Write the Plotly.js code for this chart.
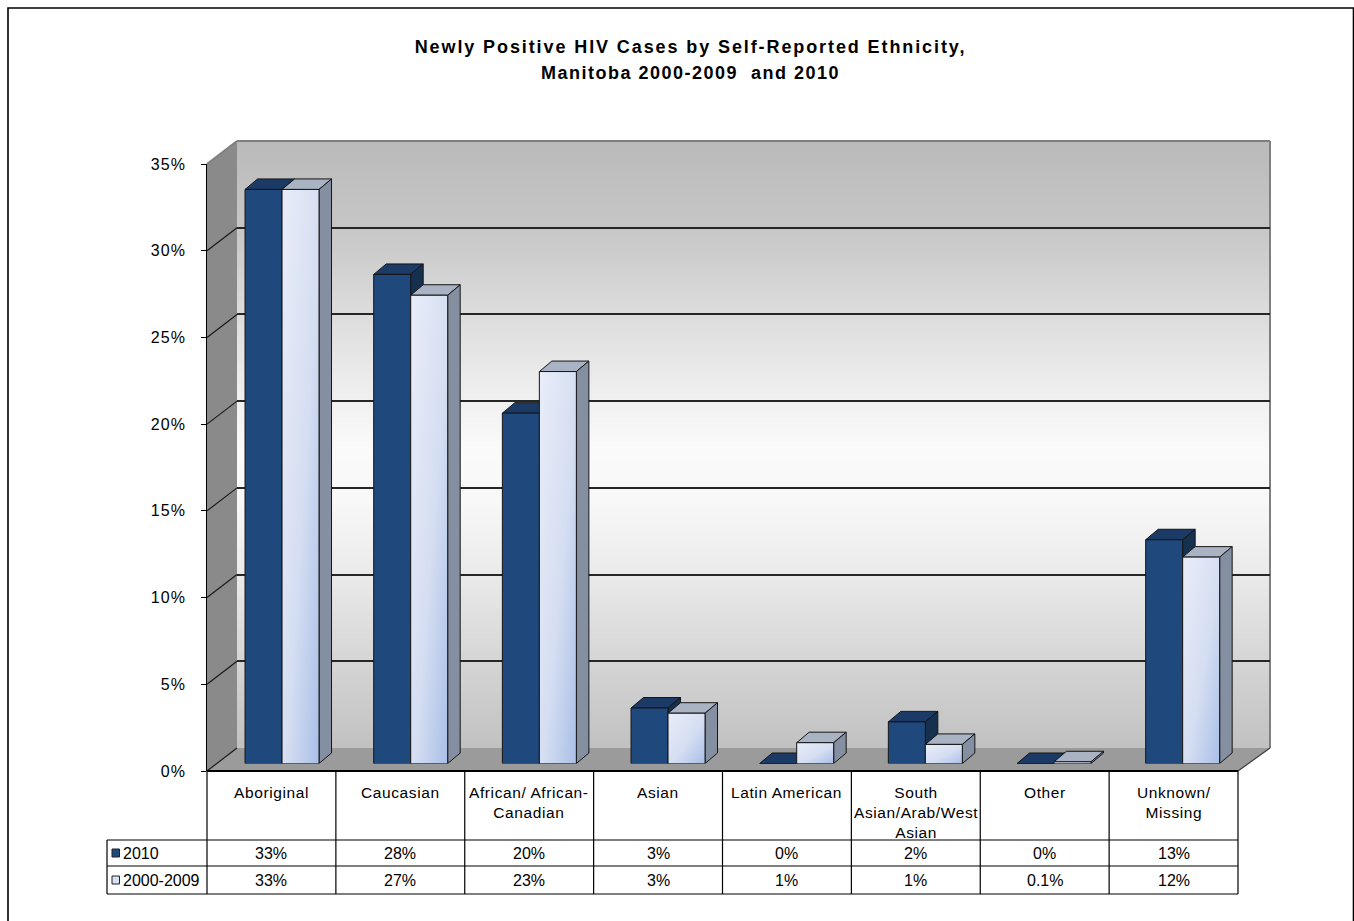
<!DOCTYPE html>
<html>
<head>
<meta charset="utf-8">
<script src="https://cdn.plot.ly/plotly-3.0.1.min.js"></script>
<style>
html,body{margin:0;padding:0;overflow:hidden;background:#fff;}
#chart{width:1354px;height:921px;}
</style>
</head>
<body>
<div id="chart"></div>
<script>
// ---------------- DATA ----------------
const categories = ['Aboriginal', 'Caucasian', 'African/ African-<br>Canadian', 'Asian',
  'Latin American', 'South<br>Asian/Arab/West<br>Asian', 'Other', 'Unknown/<br>Missing'];
const seriesNames = ['2010', '2000-2009'];
const values2010 = [33.1, 28.2, 20.2, 3.2, 0, 2.4, 0, 12.9];
const values0009 = [33.1, 27.0, 22.6, 2.9, 1.2, 1.1, 0.1, 11.9];
const labels2010 = ['33%', '28%', '20%', '3%', '0%', '2%', '0%', '13%'];
const labels0009 = ['33%', '27%', '23%', '3%', '1%', '1%', '0.1%', '12%'];
const yTicks = [0, 5, 10, 15, 20, 25, 30, 35];
const titleLine1 = 'Newly Positive HIV Cases by Self-Reported Ethnicity,';
const titleLine2 = 'Manitoba 2000-2009  and 2010';

// ---------------- GEOMETRY / STYLE ----------------
const W = 1354, H = 921;
const fx = p => p / W;
const fy = p => (H - p) / H;
const FONT = 'Liberation Sans, Arial, Helvetica, sans-serif';
const wall = {l: 237, r: 1270, t: 141, b: 748};
const front = {l: 207, r: 1238, t: 164, b: 771};
const barsBox = {l: 217.7, r: 1247, t: 156.5, b: 763.5};
const depth = {dx: 12.5, dy: 10.5};
const tableRows = [771, 840, 866, 894];
const legendLeft = 107;
const yMax = 35;
const nCat = categories.length;
const pxPerX = (barsBox.r - barsBox.l) / nCat;
const pxPerY = (barsBox.b - barsBox.t) / yMax;
const ddx = depth.dx / pxPerX, ddy = depth.dy / pxPerY;
const bw = 37 / pxPerX;
const colors = {
  front: ['#1f497d', '#d6e0f2'],
  top: ['#1b3a66', '#a9b3c4'],
  side: ['#16304f', '#858fa2'],
  edge: '#151515'
};
const sp = (t, s) => s ? '<span style="letter-spacing:' + s + 'px">' + t + '</span>' : t;

const xIdx = categories.map((c, i) => i);
const seriesVals = [values2010, values0009];
const offsets = [-bw, 0];

// ---------------- TRACES ----------------
const traces = [
  {type: 'scatter', x: [0], y: [0], xaxis: 'x', yaxis: 'y', mode: 'markers',
   marker: {opacity: 0}, hoverinfo: 'skip', showlegend: false},
  {type: 'bar', name: seriesNames[0], x: xIdx, y: values2010, width: bw, offset: offsets[0],
   xaxis: 'x2', yaxis: 'y2', marker: {color: colors.front[0], line: {color: colors.edge, width: 1}},
   showlegend: false},
  {type: 'bar', name: seriesNames[1], x: xIdx, y: values0009, width: bw, offset: offsets[1],
   xaxis: 'x2', yaxis: 'y2', marker: {color: colors.front[1], line: {color: colors.edge, width: 1}},
   showlegend: false},
  {type: 'scatter', x: [0], y: [0], xaxis: 'x3', yaxis: 'y3', mode: 'markers',
   marker: {opacity: 0}, hoverinfo: 'skip', showlegend: false}
];

// ---------------- SHAPES ----------------
const shapes = [];
const stops = [[141, 186], [226, 198], [313, 220], [400, 240], [450, 250], [500, 248], [574, 234], [661, 213], [748, 193]];
function grayAt(y) {
  for (let k = 0; k < stops.length - 1; k++) {
    const a = stops[k], b = stops[k + 1];
    if (y >= a[0] && y <= b[0]) return a[1] + (b[1] - a[1]) * (y - a[0]) / (b[0] - a[0]);
  }
  return stops[stops.length - 1][1];
}
for (let y = wall.t; y < wall.b; y += 3) {
  const g = Math.round(grayAt(y + 1.5));
  shapes.push({type: 'rect', xref: 'paper', yref: 'paper', layer: 'below',
    x0: fx(wall.l), x1: fx(wall.r), y0: fy(y), y1: fy(Math.min(y + 3.5, wall.b)),
    fillcolor: 'rgb(' + g + ',' + g + ',' + g + ')', line: {width: 0}});
}
shapes.push({type: 'path', xref: 'paper', yref: 'paper', layer: 'below',
  path: 'M' + fx(front.l) + ',' + fy(front.t) + ' L' + fx(wall.l) + ',' + fy(wall.t) +
        ' L' + fx(wall.l) + ',' + fy(wall.b) + ' L' + fx(front.l) + ',' + fy(front.b) + ' Z',
  fillcolor: '#8a8a8a', line: {width: 0}});
shapes.push({type: 'path', xref: 'paper', yref: 'paper', layer: 'below',
  path: 'M' + fx(front.l) + ',' + fy(front.b) + ' L' + fx(wall.l) + ',' + fy(wall.b) +
        ' L' + fx(wall.r) + ',' + fy(wall.b) + ' L' + fx(front.r) + ',' + fy(front.b) + ' Z',
  fillcolor: '#9b9b9b', line: {width: 0}});
yTicks.slice(0, -1).forEach(v => {
  shapes.push({type: 'line', xref: 'paper', yref: 'y3', layer: 'below', ysizemode: 'pixel', yanchor: v,
    x0: fx(front.l), x1: fx(wall.l), y0: 0, y1: front.b - wall.b,
    line: {color: '#1a1a1a', width: 1.2}});
});
shapes.push({type: 'line', xref: 'paper', yref: 'paper', layer: 'below',
  x0: fx(front.l), y0: fy(front.t), x1: fx(wall.l), y1: fy(wall.t), line: {color: '#7f7f7f', width: 2}});
shapes.push({type: 'line', xref: 'paper', yref: 'paper', layer: 'below',
  x0: fx(wall.l), y0: fy(wall.t), x1: fx(wall.r), y1: fy(wall.t), line: {color: '#7f7f7f', width: 2}});
shapes.push({type: 'line', xref: 'paper', yref: 'paper', layer: 'below',
  x0: fx(wall.r), y0: fy(wall.t), x1: fx(wall.r), y1: fy(wall.b), line: {color: '#7f7f7f', width: 2}});
shapes.push({type: 'line', xref: 'paper', yref: 'paper', layer: 'below',
  x0: fx(front.r), y0: fy(front.b), x1: fx(wall.r), y1: fy(wall.b), line: {color: '#3a3a3a', width: 1.2}});

xIdx.forEach(i => {
  [0, 1].forEach(s => {
    const v = seriesVals[s][i];
    const xl = i + offsets[s], xr = xl + bw;
    shapes.push({type: 'path', xref: 'x2', yref: 'y2', layer: 'below',
      path: 'M' + xl + ',' + v + ' L' + xr + ',' + v + ' L' + (xr + ddx) + ',' + (v + ddy) +
            ' L' + (xl + ddx) + ',' + (v + ddy) + ' Z',
      fillcolor: colors.top[s], line: {color: colors.edge, width: 1}});
    shapes.push({type: 'path', xref: 'x2', yref: 'y2', layer: 'below',
      path: 'M' + xr + ',0 L' + xr + ',' + v + ' L' + (xr + ddx) + ',' + (v + ddy) +
            ' L' + (xr + ddx) + ',' + ddy + ' Z',
      fillcolor: colors.side[s], line: {color: colors.edge, width: 1}});
  });
});

const colPx = (front.r - front.l) / nCat;
const tl = {color: '#000', width: 1.2};
for (let k = 0; k <= nCat; k++) {
  const x = fx(front.l + k * colPx);
  shapes.push({type: 'line', xref: 'paper', yref: 'paper', x0: x, x1: x,
    y0: fy(tableRows[0]), y1: fy(tableRows[3]), line: tl});
}
shapes.push({type: 'line', xref: 'paper', yref: 'paper', x0: fx(front.l), x1: fx(front.r),
  y0: fy(tableRows[0]), y1: fy(tableRows[0]), line: {color: '#000', width: 2}});
[1, 2, 3].forEach(r => {
  shapes.push({type: 'line', xref: 'paper', yref: 'paper', x0: fx(legendLeft), x1: fx(front.r),
    y0: fy(tableRows[r]), y1: fy(tableRows[r]), line: tl});
});
shapes.push({type: 'line', xref: 'paper', yref: 'paper', x0: fx(legendLeft), x1: fx(legendLeft),
  y0: fy(tableRows[1]), y1: fy(tableRows[3]), line: tl});
[0, 1].forEach(s => {
  const yc = (tableRows[s + 1] + tableRows[s + 2]) / 2;
  shapes.push({type: 'rect', xref: 'paper', yref: 'paper', x0: fx(112), x1: fx(119.5),
    y0: fy(yc - 4), y1: fy(yc + 4), fillcolor: colors.front[s], line: {color: '#222', width: 1}});
});
shapes.push({type: 'rect', xref: 'paper', yref: 'paper', x0: fx(8), x1: fx(1353.5), y0: fy(935), y1: fy(8),
  line: {color: '#000', width: 1.6}, fillcolor: 'rgba(0,0,0,0)'});

// ---------------- ANNOTATIONS ----------------
const tf = {family: FONT, size: 16, color: '#000'};
const cf = {family: FONT, size: 15.5, color: '#000'};
const annotations = [];
annotations.push({xref: 'paper', yref: 'paper', x: fx(690.5), y: fy(73), xanchor: 'center', yanchor: 'middle',
  text: sp(titleLine2, 1.5), showarrow: false,
  font: {family: FONT, size: 18, color: '#000', weight: 'bold'}});
categories.forEach((c, i) => {
  annotations.push({xref: 'x3', yref: 'paper', x: i, y: fy(782), xanchor: 'center', yanchor: 'top',
    text: c.split('<br>').map(t => sp(t, 0.6)).join('<br>'), showarrow: false, font: cf});
});
[labels2010, labels0009].forEach((labs, s) => {
  const yc = (tableRows[s + 1] + tableRows[s + 2]) / 2;
  labs.forEach((t, i) => {
    annotations.push({xref: 'x3', yref: 'paper', x: i, y: fy(yc), xanchor: 'center', yanchor: 'middle',
      text: t, showarrow: false, font: tf});
  });
  annotations.push({xref: 'paper', yref: 'paper', x: fx(121), y: fy(yc), xanchor: 'left', yanchor: 'middle',
    text: seriesNames[s], showarrow: false, font: tf});
});

// ---------------- LAYOUT ----------------
const layout = {
  width: W, height: H,
  margin: {l: 0, r: 0, t: 0, b: 0},
  paper_bgcolor: '#fff', plot_bgcolor: 'rgba(0,0,0,0)',
  showlegend: false, barmode: 'overlay',
  title: {text: sp(titleLine1, 1.9), x: fx(690.5), xanchor: 'center', y: fy(47), yanchor: 'middle',
    xref: 'paper', yref: 'paper', font: {family: FONT, size: 18, color: '#000', weight: 'bold'}},
  xaxis: {domain: [fx(wall.l), fx(wall.r)], range: [-0.5, nCat - 0.5], visible: false, fixedrange: true},
  yaxis: {domain: [fy(wall.b), fy(wall.t)], range: [0, yMax], anchor: 'x', tickvals: yTicks.slice(0, -1),
    showgrid: true, gridcolor: '#262626', gridwidth: 2, zeroline: false, showticklabels: false,
    ticks: '', showline: false, fixedrange: true},
  xaxis2: {domain: [fx(barsBox.l), fx(barsBox.r)], range: [-0.5, nCat - 0.5], visible: false, anchor: 'y2', fixedrange: true},
  yaxis2: {domain: [fy(barsBox.b), fy(barsBox.t)], range: [0, yMax], visible: false, anchor: 'x2', fixedrange: true},
  xaxis3: {domain: [fx(front.l), fx(front.r)], range: [-0.5, nCat - 0.5], visible: false, anchor: 'y3', fixedrange: true},
  yaxis3: {domain: [fy(front.b), fy(front.t)], range: [0, yMax], anchor: 'x3', side: 'left',
    tickvals: yTicks, ticktext: yTicks.map(v => sp(v + '%', 1.2)),
    ticks: 'outside', ticklen: 5, tickwidth: 1, tickcolor: '#000', ticklabelstandoff: 11,
    showline: true, linecolor: '#000', linewidth: 1.5, showgrid: false, zeroline: false,
    tickfont: {family: FONT, size: 16, color: '#000'}, fixedrange: true},
  shapes: shapes,
  annotations: annotations
};

Plotly.newPlot('chart', traces, layout, {displayModeBar: false, staticPlot: true}).then(gd => {
  const svg = gd.querySelector('svg.main-svg');
  const ns = 'http://www.w3.org/2000/svg';
  let defs = svg.querySelector('defs');
  const lg = document.createElementNS(ns, 'linearGradient');
  lg.setAttribute('id', 'g0009');
  lg.setAttribute('x1', '0'); lg.setAttribute('y1', '0'); lg.setAttribute('x2', '1'); lg.setAttribute('y2', '1');
  [['0', '#e8edf8'], ['0.55', '#d5def2'], ['1', '#a9bfe7']].forEach(st => {
    const e = document.createElementNS(ns, 'stop');
    e.setAttribute('offset', st[0]); e.setAttribute('stop-color', st[1]);
    lg.appendChild(e);
  });
  defs.appendChild(lg);
  const barTraces = gd.querySelectorAll('.barlayer .trace');
  if (barTraces.length > 1) {
    barTraces[1].querySelectorAll('path').forEach(p => { p.style.fill = 'url(#g0009)'; });
  }
});
</script>
</body>
</html>
